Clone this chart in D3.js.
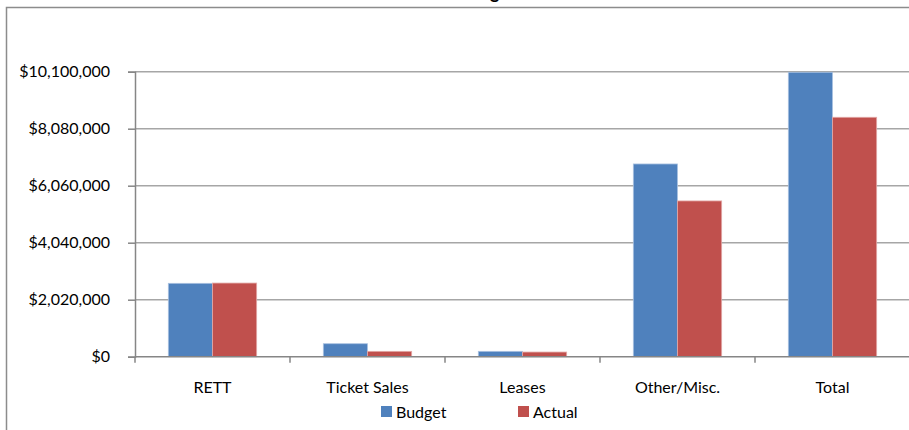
<!DOCTYPE html>
<html>
<head>
<meta charset="utf-8">
<script src="https://cdn.jsdelivr.net/npm/d3@7"></script>
<style>
  html, body { margin: 0; padding: 0; background: #fff; overflow: hidden; }
  svg { display: block; font-family: Lato, "Open Sans", sans-serif; }
</style>
</head>
<body>
<svg id="chart" width="909" height="430"></svg>
<script>
// Revenue by source, budget against actual
const categories = ["RETT", "Ticket Sales", "Leases", "Other/Misc.", "Total"];
const seriesNames = ["Budget", "Actual"];
const budget = [2600000, 460000, 190000, 6830000, 10080000];
const actual = [2610000, 190000, 165000, 5520000, 8485000];
const yTicks = [0, 2020000, 4040000, 6060000, 8080000, 10100000];
const colors = ["#4f81bd", "#c0504d"];
const strokes = ["#a9c1e0", "#e3a9a7"];
const fontSize = 16;

const svg = d3.select("#chart");

// outer chart frame (extends past the right and bottom edges of the view)
svg.append("rect")
  .attr("x", 6.5).attr("y", 7.5)
  .attr("width", 1200).attr("height", 1200)
  .attr("fill", "none").attr("stroke", "#8c8c8c").attr("stroke-width", 1.5);

// chart title, sitting just above the frame
svg.append("text")
  .attr("x", 450).attr("y", -1)
  .attr("text-anchor", "middle")
  .attr("font-size", 18).attr("font-weight", "bold")
  .attr("fill", "#000")
  .text("Revenue Budget");

const x0 = d3.scaleBand().domain(categories).range([135, 910]).paddingInner(0.43).paddingOuter(0.215);
const x1 = d3.scaleBand().domain(seriesNames).range([0, x0.bandwidth()]);
const y = d3.scaleLinear().domain([0, 10100000]).range([356.7, 71.7]);

// horizontal gridlines
svg.append("g").selectAll("line")
  .data(yTicks.filter(d => d > 0))
  .join("line")
  .attr("x1", 135).attr("x2", 910)
  .attr("y1", d => y(d)).attr("y2", d => y(d))
  .attr("stroke", "#a6a6a6").attr("stroke-width", 1.5);

// y axis
const fmt = d => "$" + d3.format(",")(d);
const yAxis = svg.append("g")
  .attr("transform", "translate(135,0)")
  .call(d3.axisLeft(y).tickValues(yTicks).tickFormat(fmt).tickSize(7).tickPadding(18));
yAxis.select(".domain").attr("stroke", "#868686").attr("stroke-width", 1.5);
yAxis.selectAll(".tick line").attr("stroke", "#868686").attr("stroke-width", 1.5);
yAxis.selectAll(".tick text")
  .attr("font-size", fontSize).attr("fill", "#000")
  .attr("font-family", "Lato, sans-serif");

// bars
const rows = categories.map((c, i) => ({ c, vals: [budget[i], actual[i]] }));
const groups = svg.append("g").selectAll("g")
  .data(rows).join("g")
  .attr("transform", d => `translate(${x0(d.c)},0)`);
groups.selectAll("rect")
  .data(d => d.vals.map((v, j) => ({ v, j })))
  .join("rect")
  .attr("x", d => x1(seriesNames[d.j]))
  .attr("width", x1.bandwidth())
  .attr("y", d => y(d.v))
  .attr("height", d => y(0) - y(d.v))
  .attr("fill", d => colors[d.j])
  .attr("stroke", d => strokes[d.j])
  .attr("stroke-width", 0.8);

// x axis with ticks between categories
const step = x0.step();
const xAxisG = svg.append("g");
xAxisG.append("line")
  .attr("x1", 135).attr("x2", 910)
  .attr("y1", y(0)).attr("y2", y(0))
  .attr("stroke", "#868686").attr("stroke-width", 1.5);
xAxisG.selectAll("line.tk")
  .data(d3.range(categories.length + 1))
  .join("line").attr("class", "tk")
  .attr("x1", i => 135 + i * step).attr("x2", i => 135 + i * step)
  .attr("y1", y(0)).attr("y2", y(0) + 6)
  .attr("stroke", "#868686").attr("stroke-width", 1.5);
xAxisG.selectAll("text")
  .data(categories)
  .join("text")
  .attr("x", d => x0(d) + x0.bandwidth() / 2)
  .attr("y", 393)
  .attr("text-anchor", "middle")
  .attr("font-size", fontSize).attr("fill", "#000")
  .text(d => d);

// legend
const legendX = [381, 518];
const legend = svg.append("g").selectAll("g")
  .data(seriesNames).join("g")
  .attr("transform", (d, i) => `translate(${legendX[i]},406)`);
legend.append("rect")
  .attr("width", 11).attr("height", 11)
  .attr("fill", (d, i) => colors[i]);
legend.append("text")
  .attr("x", 15).attr("y", 11.5)
  .attr("font-size", fontSize).attr("fill", "#000")
  .text(d => d);
</script>
</body>
</html>
